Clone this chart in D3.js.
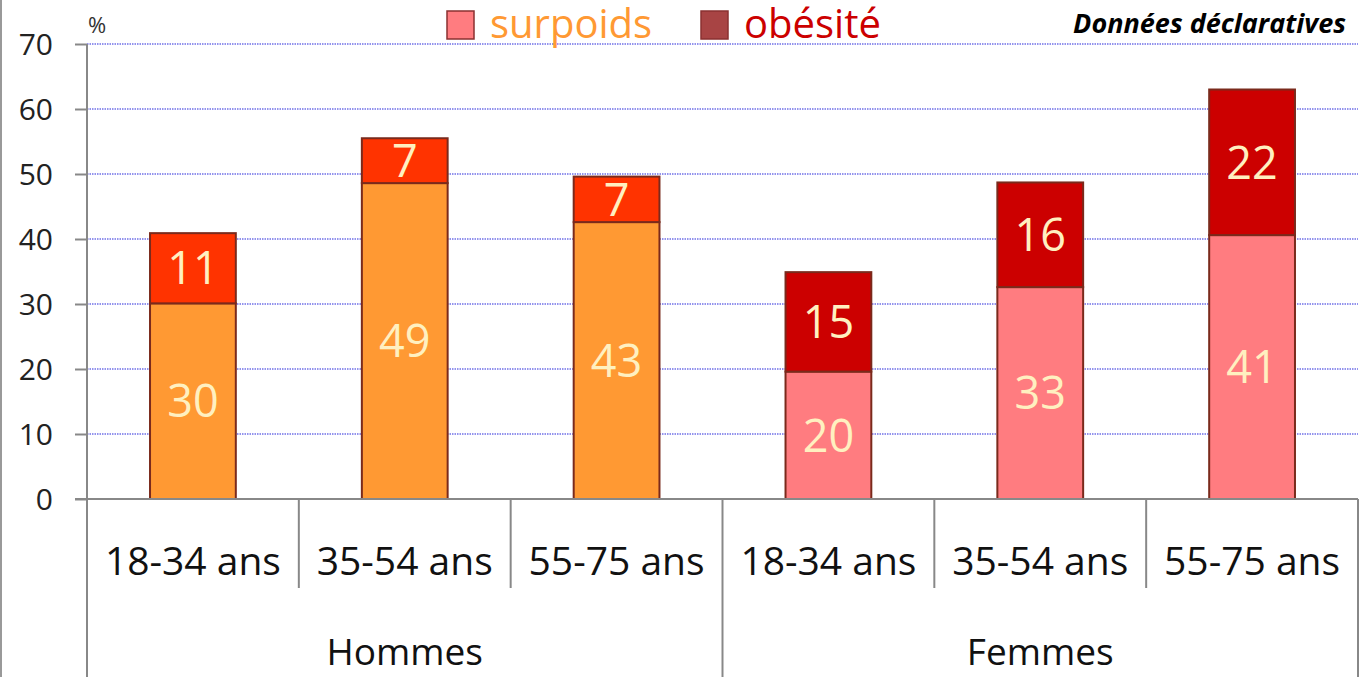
<!DOCTYPE html>
<html>
<head>
<meta charset="utf-8">
<script src="https://cdn.jsdelivr.net/npm/d3@7"></script>
<style>
  body { margin: 0; background: #fff; }
  svg { display: block; font-family: "Open Sans", sans-serif; }
</style>
</head>
<body>
<svg id="chart" width="1370" height="677"></svg>
<script>
// data (labels are rounded values)
var groups = ["Hommes", "Femmes"];
var ages = ["18-34 ans", "35-54 ans", "55-75 ans"];
var surpoids = [30.1, 48.6, 42.6, 19.6, 32.6, 40.6];
var obesite = [10.8, 6.9, 7.0, 15.3, 16.1, 22.4];
var yTicks = [0, 10, 20, 30, 40, 50, 60, 70];

var colSurpoids = ["#ff9933", "#ff9933", "#ff9933", "#ff7c80", "#ff7c80", "#ff7c80"];
var colObesite = ["#ff3300", "#ff3300", "#ff3300", "#cc0000", "#cc0000", "#cc0000"];

var svg = d3.select("#chart");
var plotLeft = 87, plotRight = 1358, plotTop = 44, plotBase = 499;

var cats = [];
groups.forEach(function (g) {
    ages.forEach(function (a) { cats.push(g + "|" + a); });
});
var rows = cats.map(function (c, i) {
    return { key: c, age: c.split("|")[1], s: surpoids[i], o: obesite[i], i: i };
});

var x = d3.scaleBand().domain(cats).range([plotLeft, plotRight]).padding(0);
var xg = d3.scaleBand().domain(groups).range([plotLeft, plotRight]).padding(0);
var y = d3.scaleLinear().domain([0, 70]).range([plotBase, plotTop]);
var bw = x.step() * 0.405;

// left frame line
svg.append("line").attr("x1", 1).attr("x2", 1).attr("y1", 0).attr("y2", 677)
    .attr("stroke", "#999").attr("stroke-width", 2);

// gridlines
svg.append("g").selectAll("line").data(yTicks.slice(1)).enter().append("line")
    .attr("x1", plotLeft).attr("x2", plotRight)
    .attr("y1", function (d) { return y(d); }).attr("y2", function (d) { return y(d); })
    .attr("stroke", "#6f6fe8").attr("stroke-width", 1.6).attr("stroke-dasharray", "1.5,1");

// y axis
var yAxis = d3.axisLeft(y).tickValues(yTicks).tickSize(12).tickPadding(22);
var gy = svg.append("g").attr("transform", "translate(" + plotLeft + ",0)").call(yAxis);
gy.select(".domain").remove();
gy.selectAll(".tick line").attr("stroke", "#888").attr("stroke-width", 2);
gy.selectAll(".tick text").attr("font-size", 30).attr("fill", "#222")
    .attr("font-family", "Open Sans, sans-serif").attr("dy", "0.36em");

svg.append("text").attr("x", 88).attr("y", 33).attr("font-size", 22).attr("fill", "#333").text("%");

// bars
var bars = svg.append("g").selectAll("g").data(rows).enter().append("g");
bars.append("rect")
    .attr("x", function (d) { return x(d.key) + (x.step() - bw) / 2; })
    .attr("y", function (d) { return y(d.s); })
    .attr("width", bw)
    .attr("height", function (d) { return plotBase - y(d.s); })
    .attr("fill", function (d) { return colSurpoids[d.i]; })
    .attr("stroke", "#7a2a1c").attr("stroke-width", 2);
bars.append("rect")
    .attr("x", function (d) { return x(d.key) + (x.step() - bw) / 2; })
    .attr("y", function (d) { return y(d.s + d.o); })
    .attr("width", bw)
    .attr("height", function (d) { return y(d.s) - y(d.s + d.o); })
    .attr("fill", function (d) { return colObesite[d.i]; })
    .attr("stroke", "#7a2a1c").attr("stroke-width", 2);

bars.append("text")
    .attr("x", function (d) { return x(d.key) + x.step() / 2; })
    .attr("y", function (d) { return (y(d.s) + plotBase) / 2; })
    .attr("dy", "0.36em").attr("text-anchor", "middle")
    .attr("font-size", 45).attr("fill", "#fff0c0")
    .text(function (d) { return Math.round(d.s); });
bars.append("text")
    .attr("x", function (d) { return x(d.key) + x.step() / 2; })
    .attr("y", function (d) { return (y(d.s) + y(d.s + d.o)) / 2; })
    .attr("dy", "0.36em").attr("text-anchor", "middle")
    .attr("font-size", 45).attr("fill", "#fff0c0")
    .text(function (d) { return Math.round(d.o); });

// x axis: baseline, separators, labels
svg.append("line").attr("x1", plotLeft - 12).attr("x2", plotRight).attr("y1", plotBase).attr("y2", plotBase)
    .attr("stroke", "#888").attr("stroke-width", 2);
svg.append("line").attr("x1", plotLeft).attr("x2", plotLeft).attr("y1", plotTop).attr("y2", 677)
    .attr("stroke", "#888").attr("stroke-width", 2);

svg.append("g").selectAll("line").data(cats.slice(1)).enter().append("line")
    .attr("x1", function (d) { return x(d); }).attr("x2", function (d) { return x(d); })
    .attr("y1", plotBase).attr("y2", function (d) { return d.split("|")[1] === ages[0] ? 677 : 588; })
    .attr("stroke", "#888").attr("stroke-width", 2);
svg.append("line").attr("x1", plotRight).attr("x2", plotRight).attr("y1", plotBase).attr("y2", 677)
    .attr("stroke", "#888").attr("stroke-width", 2);

svg.append("g").selectAll("text").data(rows).enter().append("text")
    .attr("x", function (d) { return x(d.key) + x.step() / 2; })
    .attr("y", 575).attr("text-anchor", "middle")
    .attr("font-size", 39).attr("fill", "#111")
    .text(function (d) { return d.age; });

svg.append("g").selectAll("text").data(groups).enter().append("text")
    .attr("x", function (d) { return xg(d) + xg.bandwidth() / 2; })
    .attr("y", 665).attr("text-anchor", "middle")
    .attr("font-size", 37).attr("fill", "#111")
    .text(function (d) { return d; });

// legend
var legend = [
    { name: "surpoids", box: "#ff7c80", text: "#ff9933", x: 447 },
    { name: "obésité", box: "#a84444", text: "#cc0000", x: 701 }
];
var lg = svg.append("g").selectAll("g").data(legend).enter().append("g");
lg.append("rect").attr("x", function (d) { return d.x; }).attr("y", 11)
    .attr("width", 27).attr("height", 28)
    .attr("fill", function (d) { return d.box; }).attr("stroke", "#8a3030").attr("stroke-width", 1.5);
lg.append("text").attr("x", function (d) { return d.x + 43; }).attr("y", 38)
    .attr("font-size", 40).attr("fill", function (d) { return d.text; })
    .text(function (d) { return d.name; });

svg.append("text").attr("x", 1346).attr("y", 33).attr("text-anchor", "end")
    .attr("font-size", 27).attr("font-weight", "bold").attr("font-style", "italic")
    .attr("fill", "#000").text("Données déclaratives");
</script>
</body>
</html>
